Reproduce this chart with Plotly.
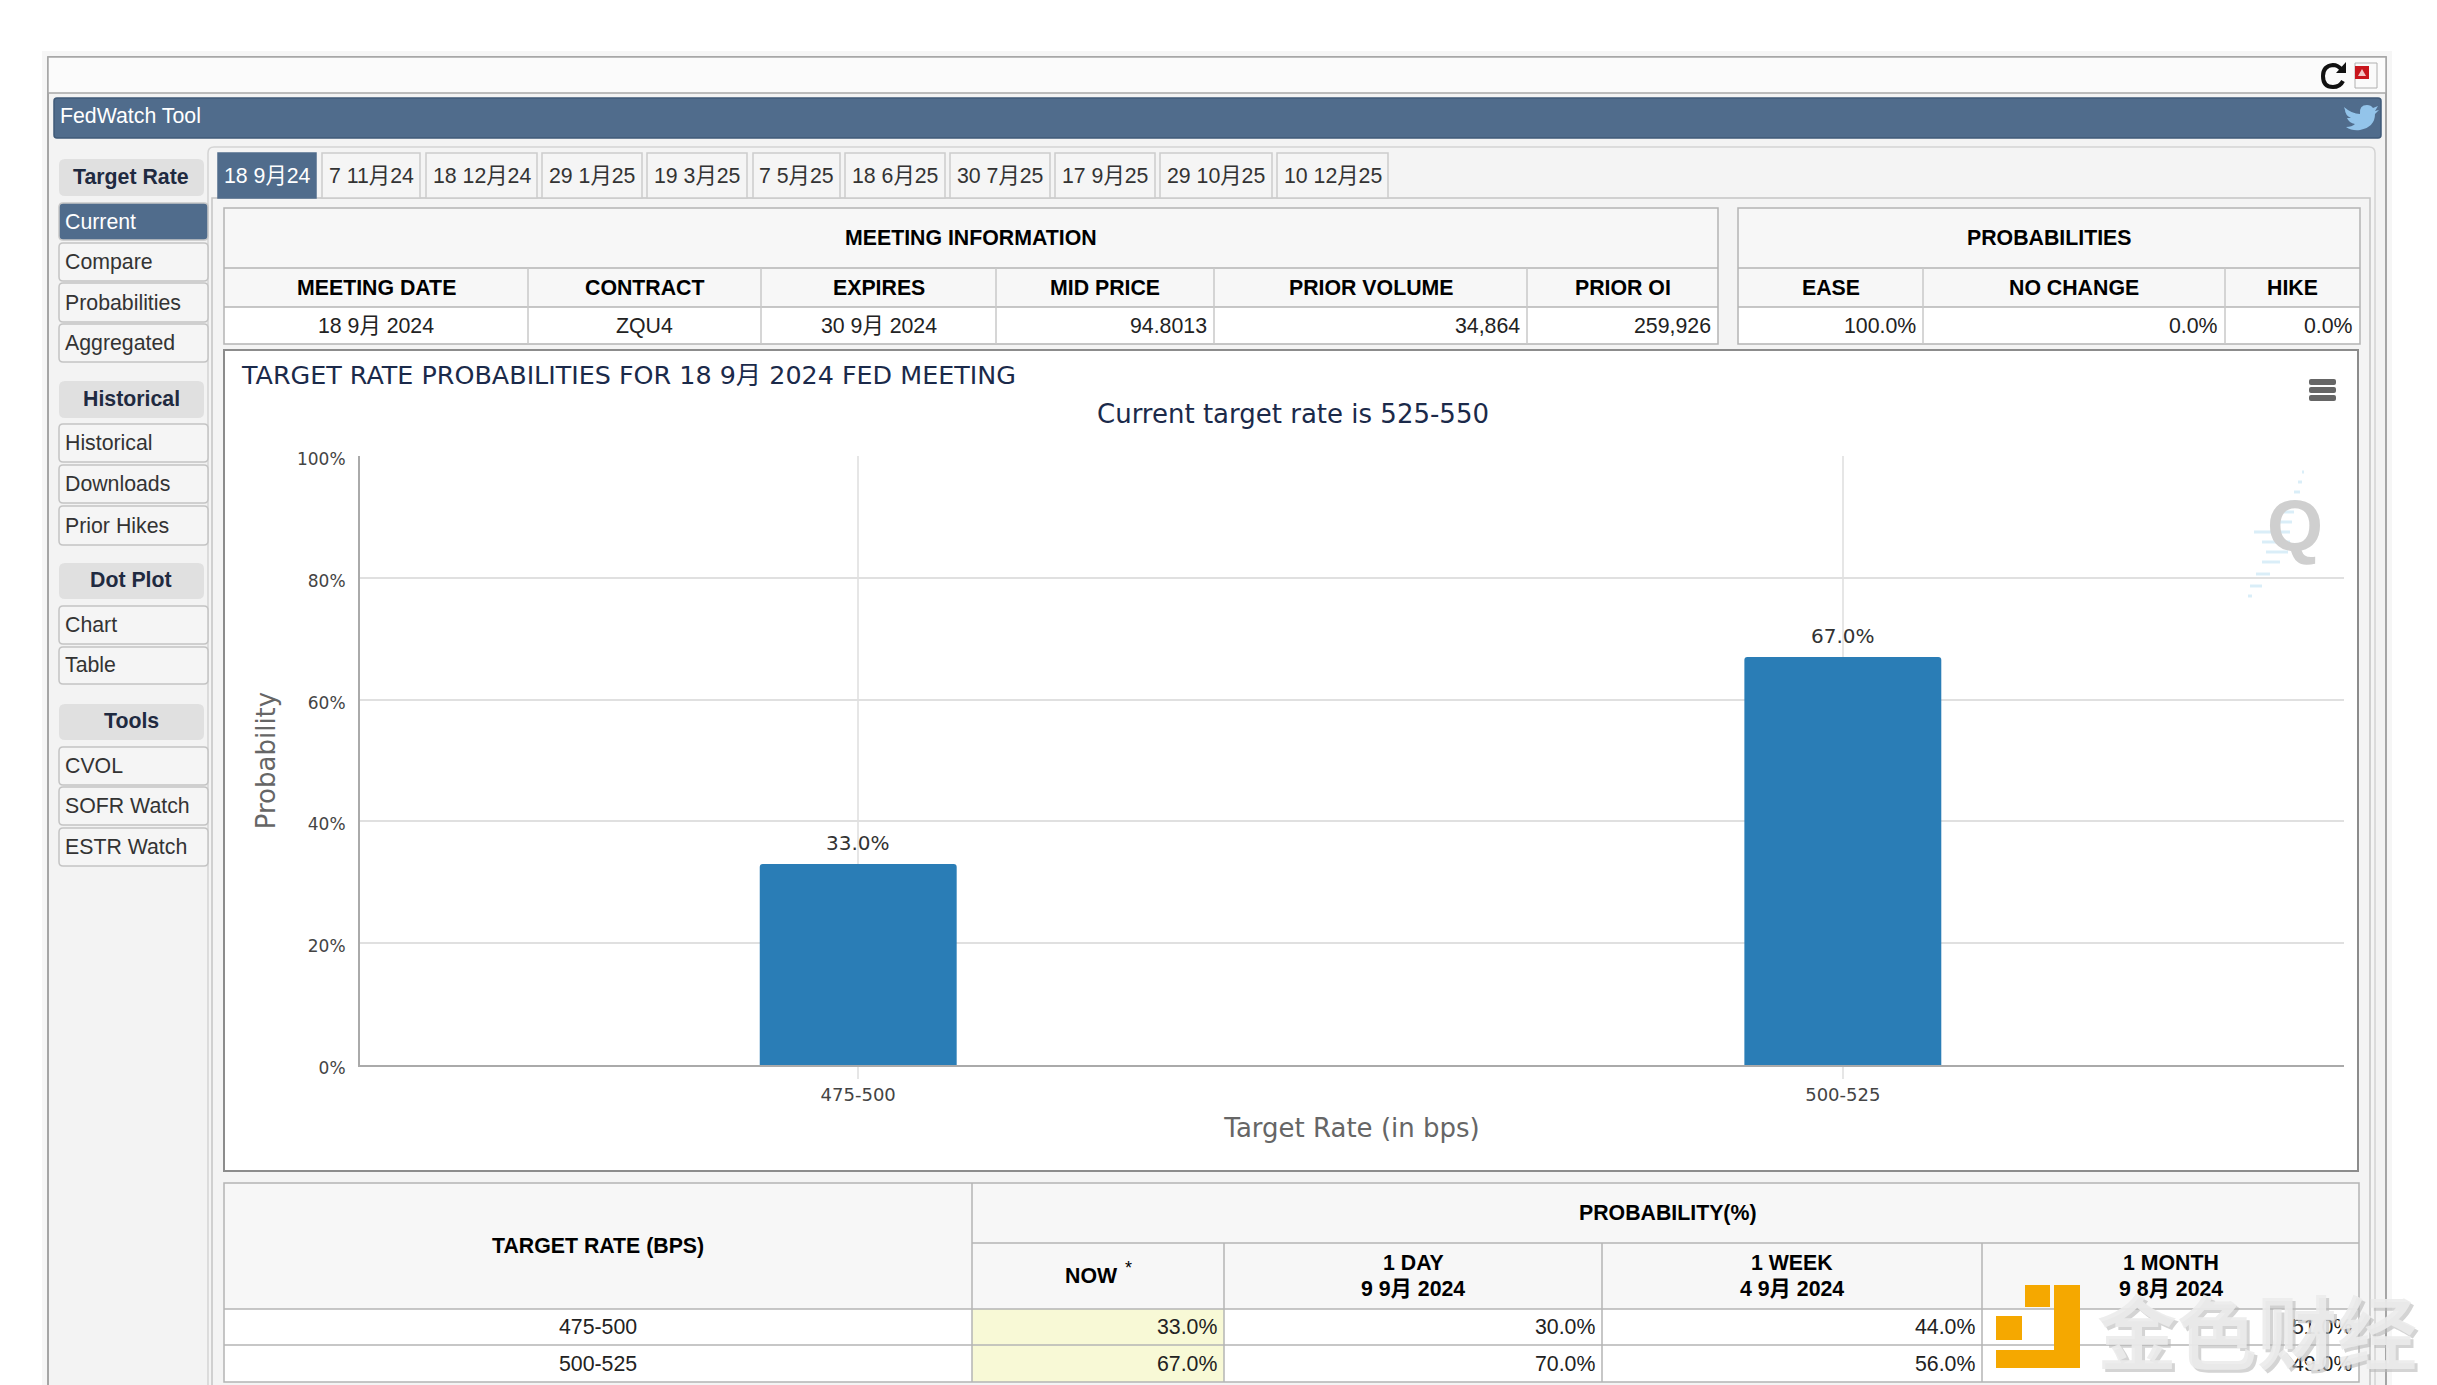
import plotly.graph_objects as go

W = 2437
H = 1385

# chart data
rate_bins = ["475-500", "500-525"]
prob_now = [33.0, 67.0]
prob_1day = [30.0, 70.0]
prob_1week = [44.0, 56.0]
prob_1month = [51.0, 49.0]
y_ticks = [0, 20, 40, 60, 80, 100]

# page text
meeting_tabs = ["18 9月24", "7 11月24", "18 12月24", "29 1月25", "19 3月25", "7 5月25",
                "18 6月25", "30 7月25", "17 9月25", "29 10月25", "10 12月25"]
meeting_head = ["MEETING DATE", "CONTRACT", "EXPIRES", "MID PRICE", "PRIOR VOLUME", "PRIOR OI"]
meeting_row = ["18 9月 2024", "ZQU4", "30 9月 2024", "94.8013", "34,864", "259,926"]
prob_head = ["EASE", "NO CHANGE", "HIKE"]
prob_row = ["100.0%", "0.0%", "0.0%"]
side_menu = [("head", "Target Rate"), ("on", "Current"), ("item", "Compare"), ("item", "Probabilities"),
             ("item", "Aggregated"), ("head", "Historical"), ("item", "Historical"), ("item", "Downloads"),
             ("item", "Prior Hikes"), ("head", "Dot Plot"), ("item", "Chart"), ("item", "Table"),
             ("head", "Tools"), ("item", "CVOL"), ("item", "SOFR Watch"), ("item", "ESTR Watch")]

# page geometry, in pixels of the screenshot
side_y = [(159, 196), (203, 240), (243, 281), (283, 322), (324, 362), (381, 418), (424, 462), (465, 503),
          (506, 545), (563, 599), (606, 644), (647, 684), (704, 740), (747, 785), (787, 825), (828, 866)]
tab_x = [(218, 316), (322, 420), (426, 537), (542, 642), (647, 747), (753, 840), (845, 945),
         (950, 1050), (1055, 1155), (1160, 1272), (1277, 1388)]
meet_cols = [224, 528, 761, 996, 1214, 1527, 1718]
prob_cols = [1738, 1923, 2225, 2360]
low_cols = [224, 972, 1224, 1602, 1982, 2359]

BLUE = "#506c8c"
LINE = "#b4b4b4"
HEAD = "#f7f7f7"
SANS = "Liberation Sans, Noto Sans CJK SC"
CHART = "DejaVu Sans, Noto Sans CJK SC"
TXT = 21.3

shapes = []
notes = []


def px(x):
    return x / W


def py(y):
    return 1 - y / H


def rect(x0, y0, x1, y1, fill=None, line=None, lw=1.5, layer="below"):
    shapes.append(dict(type="rect", xref="paper", yref="paper", x0=px(x0), x1=px(x1), y0=py(y0), y1=py(y1),
                       fillcolor=fill or "rgba(0,0,0,0)", layer=layer,
                       line=dict(color=line or "rgba(0,0,0,0)", width=lw if line else 0)))


def rrect(x0, y0, x1, y1, r, fill=None, line=None, lw=1.5):
    p = (f"M{px(x0 + r)},{py(y0)} L{px(x1 - r)},{py(y0)} Q{px(x1)},{py(y0)} {px(x1)},{py(y0 + r)} "
         f"L{px(x1)},{py(y1 - r)} Q{px(x1)},{py(y1)} {px(x1 - r)},{py(y1)} L{px(x0 + r)},{py(y1)} "
         f"Q{px(x0)},{py(y1)} {px(x0)},{py(y1 - r)} L{px(x0)},{py(y0 + r)} Q{px(x0)},{py(y0)} {px(x0 + r)},{py(y0)} Z")
    shapes.append(dict(type="path", xref="paper", yref="paper", path=p, layer="below",
                       fillcolor=fill or "rgba(0,0,0,0)",
                       line=dict(color=line or "rgba(0,0,0,0)", width=lw if line else 0)))


def poly(cmds, fill=None, line=None, lw=0):
    # cmds is a list of (letter, x, y, x, y...) in screenshot pixels
    parts = []
    for c in cmds:
        vals = c[1:]
        pts = " ".join(f"{px(vals[i])},{py(vals[i + 1])}" for i in range(0, len(vals), 2))
        parts.append(c[0] + pts)
    shapes.append(dict(type="path", xref="paper", yref="paper", path=" ".join(parts), layer="below",
                       fillcolor=fill or "rgba(0,0,0,0)",
                       line=dict(color=line or "rgba(0,0,0,0)", width=lw)))


def vline(x, y0, y1, color=LINE, lw=1.5):
    shapes.append(dict(type="line", xref="paper", yref="paper", x0=px(x), x1=px(x), y0=py(y0), y1=py(y1),
                       layer="below", line=dict(color=color, width=lw)))


def hline(x0, x1, y, color=LINE, lw=1.5):
    shapes.append(dict(type="line", xref="paper", yref="paper", x0=px(x0), x1=px(x1), y0=py(y), y1=py(y),
                       layer="below", line=dict(color=color, width=lw)))


def label(x, y, text, size=TXT, color="#222222", anchor="center", font=SANS, bold=False, opacity=1):
    notes.append(dict(xref="paper", yref="paper", x=px(x), y=py(y), text=f"<b>{text}</b>" if bold else text,
                      showarrow=False, xanchor=anchor, yanchor="middle", opacity=opacity, borderpad=0,
                      font=dict(size=size, color=color, family=font)))


def cell(cols, i, y, text, align="center", **kw):
    if align == "right":
        label(cols[i + 1] - 6, y, text, anchor="right", **kw)
    else:
        label((cols[i] + cols[i + 1]) / 2, y, text, **kw)


# page frame
rect(42, 51, 2392, H + 10, fill="#f6f6f6")
rect(48, 57, 2386, H + 10, fill="#f3f3f3", line="#8c8c8c", lw=1.5)
rect(48, 57, 2386, 93, fill="#fbfbfb", line="#a8a8a8", lw=1.5)
rrect(54, 98, 2381, 138, 3, fill=BLUE, line="#3f5a78")
label(59, 116, "FedWatch Tool", color="white", anchor="left")

# toolbar icons
poly([("M", 2342, 70), ("Q", 2338, 65, 2333, 65), ("Q", 2323, 66, 2323, 76), ("Q", 2323, 87, 2333, 87),
      ("Q", 2340, 87, 2343, 81)], line="#111111", lw=4)
poly([("M", 2336, 73), ("L", 2346, 73), ("L", 2346, 62), ("Z",)], fill="#111111")
rect(2355, 63, 2377, 88, fill="#fafafa", line="#b0b0b0", lw=1)
rect(2355, 66, 2369, 79, fill="#c8161d")
poly([("M", 2358, 76), ("L", 2362, 69), ("L", 2366, 76), ("Z",)], fill="#f3c8c8")

# twitter mark
poly([("M", 2344, 107), ("Q", 2352, 114, 2360, 114), ("Q", 2359, 105, 2367, 105), ("Q", 2371, 105, 2373, 108),
      ("L", 2378, 106), ("L", 2375, 111), ("L", 2379, 110), ("L", 2375, 114), ("Q", 2375, 127, 2360, 130),
      ("Q", 2352, 131, 2346, 127), ("Q", 2352, 127, 2355, 124), ("Q", 2349, 123, 2347, 118), ("L", 2351, 118),
      ("Q", 2345, 115, 2345, 110), ("Z",)], fill="#93c4ea")

# tab panel
rrect(208, 147, 2375, H + 10, 6, fill="#f4f4f4", line="#d4d4d4")
rect(212, 198, 2370, H + 10, fill="#f4f4f4", line="#c4c4c4")
for i, name in enumerate(meeting_tabs):
    x0, x1 = tab_x[i]
    on = i == 0
    rect(x0, 153, x1, 198, fill=BLUE if on else "#f5f5f5", line=BLUE if on else "#cccccc")
    label((x0 + x1) / 2, 176, name, color="white" if on else "#333333")

# sidebar
for (kind, name), (y0, y1) in zip(side_menu, side_y):
    mid = (y0 + y1) / 2
    if kind == "head":
        rrect(59, y0, 204, y1, 6, fill="#e0e0e0")
        label(131, mid - 1, name, color="#1f2a40", bold=True)
    elif kind == "on":
        rrect(59, y0, 208, y1, 4, fill=BLUE, line="#c8c8c8")
        label(64, mid, name, color="white", anchor="left")
    else:
        rrect(59, y0, 208, y1, 4, fill="#f5f5f5", line="#c4c4c4")
        label(64, mid, name, color="#333333", anchor="left")

# meeting information table
rect(224, 208, 1718, 268, fill=HEAD)
rect(224, 268, 1718, 307, fill=HEAD)
rect(224, 307, 1718, 344, fill="white")
rect(224, 208, 1718, 344, line=LINE)
hline(224, 1718, 268)
hline(224, 1718, 307)
for x in meet_cols[1:-1]:
    vline(x, 268, 344, color="#c8c8c8")
label(971, 238, "MEETING INFORMATION", bold=True, color="black")
for i, name in enumerate(meeting_head):
    cell(meet_cols, i, 288, name, bold=True, color="black")
for i, val in enumerate(meeting_row):
    cell(meet_cols, i, 326, val, align="right" if i > 2 else "center")

# probabilities table
rect(1738, 208, 2360, 268, fill=HEAD)
rect(1738, 268, 2360, 307, fill=HEAD)
rect(1738, 307, 2360, 344, fill="white")
rect(1738, 208, 2360, 344, line=LINE)
hline(1738, 2360, 268)
hline(1738, 2360, 307)
for x in prob_cols[1:-1]:
    vline(x, 268, 344, color="#c8c8c8")
label(2049, 238, "PROBABILITIES", bold=True, color="black")
for i, name in enumerate(prob_head):
    cell(prob_cols, i, 288, name, bold=True, color="black")
for i, val in enumerate(prob_row):
    cell(prob_cols, i, 326, val, align="right")

# chart box
rect(224, 350, 2358, 1171, fill="white", line="#8c8c8c", lw=2)
label(240, 375, "TARGET RATE PROBABILITIES FOR 18 9月 2024 FED MEETING", size=25.4, color="#1b2a4a",
      anchor="left", font=CHART)
label(1293, 414, "Current target rate is 525-550", size=26, color="#1b2a4a", font=CHART)
for y0 in (379, 387, 395):
    rrect(2309, y0, 2336, y0 + 6, 2, fill="#666666")

# logo in the plot corner
dashes = [(2302, 2304, 472), (2298, 2302, 482), (2294, 2300, 492), (2290, 2298, 502), (2284, 2294, 512),
          (2278, 2292, 522), (2254, 2290, 532), (2262, 2290, 542), (2266, 2288, 552), (2262, 2280, 562),
          (2256, 2270, 574), (2250, 2262, 586), (2248, 2252, 596)]
for x0, x1, y in dashes:
    hline(x0, x1, y, color="#daeef8", lw=3)
label(2295, 526, "<b>Q</b>", size=72, color="#cfcfcf", font="Liberation Sans")

# probability table under the chart
rect(224, 1183, 2359, 1309, fill=HEAD)
rect(224, 1309, 2359, 1382, fill="white")
rect(972, 1309, 1224, 1382, fill="#f8f9d6")
rect(224, 1183, 2359, 1382, line=LINE)
hline(972, 2359, 1243)
hline(224, 2359, 1309)
hline(224, 2359, 1345)
vline(972, 1183, 1382)
for x in low_cols[2:-1]:
    vline(x, 1243, 1382)
label(598, 1246, "TARGET RATE (BPS)", bold=True, color="black")
label(1667, 1213, "PROBABILITY(%)", bold=True, color="black")
label(1091, 1276, "NOW", bold=True, color="black")
label(1128, 1268, "*", size=18, color="black")
low_head = [("1 DAY", "9 9月 2024"), ("1 WEEK", "4 9月 2024"), ("1 MONTH", "9 8月 2024")]
for i, (a, b) in enumerate(low_head):
    cx = (low_cols[i + 2] + low_cols[i + 3]) / 2
    label(cx, 1263, a, bold=True, color="black")
    label(cx, 1289, b, bold=True, color="black")
for r, y in enumerate((1327, 1364)):
    label(598, y, rate_bins[r])
    for i, series in enumerate((prob_now, prob_1day, prob_1week, prob_1month)):
        label(low_cols[i + 2] - 6, y, f"{series[r]:.1f}%", anchor="right")

# bar value labels
for name, val in zip(rate_bins, prob_now):
    notes.append(dict(xref="x", yref="y", x=name, y=val, text=f"{val:.1f}%", showarrow=False,
                      yanchor="middle", yshift=21, font=dict(size=20, color="#333333", family=CHART)))

# gold watermark over the bottom corner
gold = "#f5a800"
for x0, y0, x1, y1 in [(2025, 1285, 2050, 1307), (2054, 1285, 2080, 1368), (1996, 1350, 2080, 1368),
                       (1996, 1316, 2022, 1340)]:
    rect(x0, y0, x1, y1, fill=gold, layer="above")
label(2260, 1331, "<b>金色财经</b>", size=80, color="#b8b8b8", font="Noto Sans CJK SC", opacity=0.6)
label(2257, 1328, "<b>金色财经</b>", size=80, color="#ececec", font="Noto Sans CJK SC", opacity=0.9)

fig = go.Figure(go.Bar(
    x=rate_bins, y=prob_now, width=0.2,
    marker=dict(color="#2a7db6", cornerradius=3, line=dict(width=0)),
    hoverinfo="skip",
))

fig.update_layout(
    width=W, height=H, autosize=False,
    margin=dict(l=0, r=0, t=0, b=0),
    paper_bgcolor="white", plot_bgcolor="rgba(0,0,0,0)",
    showlegend=False, shapes=shapes, annotations=notes,
    xaxis=dict(
        domain=[px(360), px(2344)], range=[-0.506, 1.509], type="category", automargin=False,
        showgrid=True, gridcolor="#e6e6e6", gridwidth=1.5,
        showline=True, linecolor="#aaaaaa", linewidth=2,
        ticks="outside", ticklen=12, tickcolor="#e6e6e6", tickwidth=1.5,
        tickfont=dict(size=18, color="#444444", family=CHART),
        title=dict(text="Target Rate (in bps)", standoff=15, font=dict(size=26, color="#666666", family=CHART)),
    ),
    yaxis=dict(
        domain=[py(1065), py(456)], range=[0, 100], tickvals=y_ticks, ticktext=[f"{v}%" for v in y_ticks],
        automargin=False, showgrid=True, gridcolor="#e0e0e0", gridwidth=1.5, zeroline=False,
        showline=True, linecolor="#aaaaaa", linewidth=2,
        ticks="", ticklabelstandoff=9, ticklabelshift=3,
        tickfont=dict(size=17, color="#444444", family=CHART),
        title=dict(text="Probability", standoff=14, font=dict(size=26, color="#666666", family=CHART)),
    ),
)

fig.write_html("out.html", config=dict(displayModeBar=False),
               post_script="document.body.style.margin='0';document.body.style.overflow='hidden';")
